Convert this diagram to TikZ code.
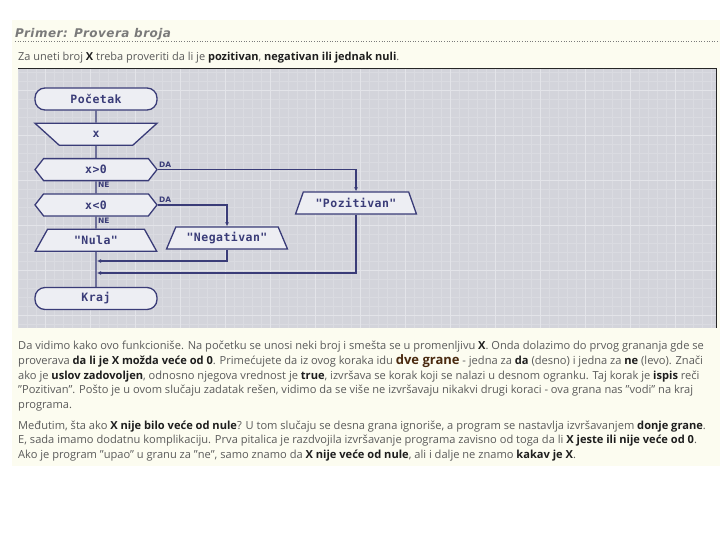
\documentclass[tikz,border=0pt]{standalone}
\usepackage{fontspec}
\setmainfont{Open Sans}
\setmonofont{DejaVu Sans Mono}
\newfontfamily\naslovfont[LetterSpace=4]{DejaVu Sans}
\newfontfamily\blokfont[LetterSpace=4]{DejaVu Sans Mono}
\newfontfamily\granafont{DejaVu Sans}
\usetikzlibrary{positioning,shapes.geometric,shapes.symbols,arrows.meta}
\definecolor{pagecream}{HTML}{FCFCF0}
\definecolor{titlegray}{HTML}{7A7A7A}
\definecolor{bodygray}{HTML}{5A5A5A}
\definecolor{boldink}{HTML}{1E1E1E}
\definecolor{granebrown}{HTML}{4A2A10}
\definecolor{panelgray}{HTML}{D3D4DB}
\definecolor{gridlight}{HTML}{DADBE1}
\definecolor{gridmajor}{HTML}{E3E4E9}
\definecolor{flownavy}{HTML}{3A3C78}
\definecolor{boxfill}{HTML}{EDEEF3}
\newcommand{\jak}[1]{\textbf{\color{boldink}#1}}

\tikzset{
  flowbox/.style={draw=flownavy, line width=1.3pt, fill=boxfill, text=flownavy, font=\blokfont\bfseries\fontsize{11.5}{12}\selectfont, minimum width=122pt, minimum height=22pt, inner sep=0pt},
  terminal/.style={flowbox, rounded corners=10pt},
  inputbox/.style={flowbox, trapezium, trapezium left angle=110, trapezium right angle=110, trapezium stretches=true},
  outputbox/.style={flowbox, trapezium, trapezium left angle=58, trapezium right angle=58, trapezium stretches=true},
  decision/.style={flowbox, signal, signal to=west and east, signal pointer angle=104},
  flow/.style={draw=flownavy, line width=1.3pt},
  branch/.style={font=\granafont\bfseries\fontsize{7.5}{8}\selectfont, text=flownavy, inner sep=1pt},
}

\begin{document}
\begin{tikzpicture}[x=1pt, y=-1pt, node distance=12pt, >={Latex[length=4pt, width=4pt]}]
  \useasboundingbox (0,0) rectangle (720,540);
  \fill[white] (0,0) rectangle (720,540);
  \fill[pagecream] (12,20) rectangle (720,466);

  \node[anchor=base west, inner sep=0pt, text=titlegray, font=\naslovfont\bfseries\itshape\fontsize{12}{14}\selectfont] (naslov) at (15,38) {Primer: Provera broja};
  \draw[titlegray, dotted, line width=0.6pt] (15,41) -- (720,41);
  \node[anchor=base west, inner sep=0pt, text=bodygray, font=\fontsize{11}{13}\selectfont] (uvod) at (18,61) {Za uneti broj \jak{X} treba proveriti da li je \jak{pozitivan}, \jak{negativan ili jednak nuli}.};

  % panel sa mrezom
  \fill[panelgray] (18,68) rectangle (717,328);
  \draw[gridlight, line width=0.5pt, step=9pt] (18,68) grid (717,328);
  \draw[gridmajor, line width=0.8pt, step=45pt] (18,68) grid (717,328);
  \draw[black!85, line width=1pt] (18,69) -- (716,69) -- (716,328);

  % dijagram toka
  \node[terminal] (pocetak) at (96,99) {Početak};
  \node[inputbox, below=of pocetak] (ulaz) {x};
  \node[decision, below=of ulaz] (veci) {x>0};
  \node[decision, below=of veci] (manji) {x<0};
  \node[outputbox, below=of manji] (nula) {"Nula"};
  \node[terminal, below=35pt of nula] (kraj) {Kraj};
  \node[outputbox] (negativan) at (227,238) {"Negativan"};
  \node[outputbox] (pozitivan) at (356,203) {"Pozitivan"};
  \coordinate (spoj1) at (97,261);
  \coordinate (spoj2) at (97,273);

  \draw[flow] (pocetak) -- (ulaz);
  \draw[flow] (ulaz) -- (veci);
  \draw[flow] (veci) -- (manji);
  \draw[flow] (manji) -- (nula);
  \draw[flow] (nula) -- (kraj);
  \draw[flow, ->] (veci.east) -| (pozitivan.north);
  \draw[flow, ->] (manji.east) -| (negativan.north);
  \draw[flow, ->] (negativan.south) |- (spoj1);
  \draw[flow, ->] (pozitivan.south) |- (spoj2);

  \node[branch, anchor=south west] (daVeci) at ([yshift=1pt]veci.east) {DA};
  \node[branch, anchor=north west] (neVeci) at ([xshift=1pt]veci.south) {NE};
  \node[branch, anchor=south west] (daManji) at ([yshift=1pt]manji.east) {DA};
  \node[branch, anchor=north west] (neManji) at ([xshift=1pt]manji.south) {NE};

  % tekst ispod
  \node[anchor=north west, inner sep=0pt, align=left, text=bodygray, font=\fontsize{11.1}{14.7}\selectfont] (objasnjenje) at (18,341) {Da vidimo kako ovo funkcioniše. Na početku se unosi neki broj i smešta se u promenljivu \jak{X}. Onda dolazimo do prvog grananja gde se\\
proverava \jak{da li je X možda veće od 0}. Primećujete da iz ovog koraka idu {\bfseries\fontsize{13}{14.7}\selectfont\color{granebrown}dve grane} - jedna za \jak{da} (desno) i jedna za \jak{ne} (levo). Znači\\
ako je \jak{uslov zadovoljen}, odnosno njegova vrednost je \jak{true}, izvršava se korak koji se nalazi u desnom ogranku. Taj korak je \jak{ispis} reči\\
"Pozitivan". Pošto je u ovom slučaju zadatak rešen, vidimo da se više ne izvršavaju nikakvi drugi koraci - ova grana nas "vodi" na kraj\\
programa.};
  \node[anchor=north west, inner sep=0pt, align=left, text=bodygray, font=\fontsize{11.1}{14.2}\selectfont] (nastavak) at (18,421) {Međutim, šta ako \jak{X nije bilo veće od nule}? U tom slučaju se desna grana ignoriše, a program se nastavlja izvršavanjem \jak{donje grane}.\\
E, sada imamo dodatnu komplikaciju. Prva pitalica je razdvojila izvršavanje programa zavisno od toga da li \jak{X jeste ili nije veće od 0}.\\
Ako je program "upao" u granu za "ne", samo znamo da \jak{X nije veće od nule}, ali i dalje ne znamo \jak{kakav je X}.};
\end{tikzpicture}
\end{document}
